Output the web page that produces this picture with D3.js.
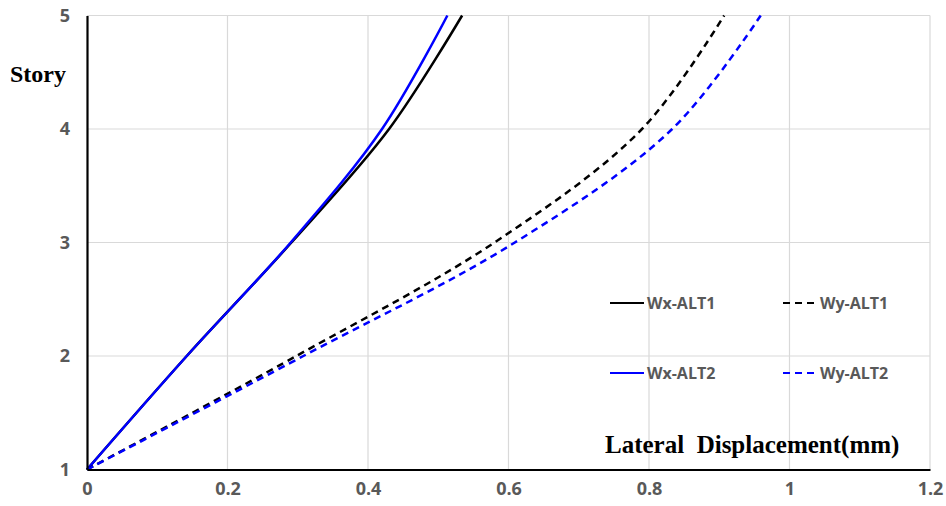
<!DOCTYPE html>
<html>
<head>
<meta charset="utf-8">
<script src="https://cdn.jsdelivr.net/npm/d3@7"></script>
<style>
  body { margin: 0; background: #fff; }
  svg { display: block; }
</style>
</head>
<body>
<div id="chart"></div>
<script>
// displacement (mm) vs story
var wxAlt1 = [[0, 1], [0.142, 2], [0.291, 3], [0.430, 4], [0.534, 5]]
var wxAlt2 = [[0, 1], [0.142, 2], [0.290, 3], [0.420, 4], [0.513, 5]]
var wyAlt1 = [[0, 1], [0.298, 2], [0.58, 3], [0.79, 4], [0.907, 5]]
var wyAlt2 = [[0, 1], [0.308, 2], [0.609, 3], [0.833, 4], [0.959, 5]]

var xTicks = [0, 0.2, 0.4, 0.6, 0.8, 1, 1.2]
var xTickLabels = ["0", "0.2", "0.4", "0.6", "0.8", "1", "1.2"]
var yTicks = [1, 2, 3, 4, 5]

var series = [
  {name: "Wx-ALT1", data: wxAlt1, color: "#000000", dash: null},
  {name: "Wx-ALT2", data: wxAlt2, color: "#0000ff", dash: null},
  {name: "Wy-ALT1", data: wyAlt1, color: "#000000", dash: "7,5"},
  {name: "Wy-ALT2", data: wyAlt2, color: "#0000ff", dash: "7,5"}
]

var width = 946,
    height = 506,
    margin = {top: 15.5, right: 16, bottom: 36.5, left: 87}

var svg = d3.select("#chart")
  .append("svg")
    .attr("width", width)
    .attr("height", height)

var x = d3.scaleLinear()
  .domain([0, 1.2])
  .range([margin.left, width - margin.right])

var y = d3.scaleLinear()
  .domain([1, 5])
  .range([height - margin.bottom, margin.top])

// grid
svg.append("g")
  .selectAll("line.vg")
  .data(xTicks.slice(1))
  .enter().append("line")
    .attr("x1", function(d) { return x(d) })
    .attr("x2", function(d) { return x(d) })
    .attr("y1", y(1))
    .attr("y2", y(5))
    .attr("stroke", "#d9d9d9")
    .attr("stroke-width", 1.2)

svg.append("g")
  .selectAll("line.hg")
  .data(yTicks.slice(1))
  .enter().append("line")
    .attr("x1", x(0))
    .attr("x2", x(1.2))
    .attr("y1", function(d) { return y(d) })
    .attr("y2", function(d) { return y(d) })
    .attr("stroke", "#d9d9d9")
    .attr("stroke-width", 1.2)

// series
var line = d3.line()
  .x(function(d) { return x(d[0]) })
  .y(function(d) { return y(d[1]) })
  .curve(d3.curveCatmullRom.alpha(0.5))

svg.append("g")
  .selectAll("path")
  .data(series)
  .enter().append("path")
    .attr("d", function(d) { return line(d.data) })
    .attr("fill", "none")
    .attr("stroke", function(d) { return d.color })
    .attr("stroke-width", 2.5)
    .attr("stroke-dasharray", function(d) { return d.dash })

// axes
var xAxis = svg.append("g")
  .attr("transform", "translate(0," + y(1) + ")")
  .call(d3.axisBottom(x)
    .tickValues(xTicks)
    .tickSize(0)
    .tickPadding(13)
    .tickFormat(function(d, i) { return xTickLabels[i] }))

var yAxis = svg.append("g")
  .attr("transform", "translate(" + x(0) + ",0)")
  .call(d3.axisLeft(y)
    .tickValues(yTicks)
    .tickSize(0)
    .tickPadding(17)
    .tickFormat(d3.format("d")))

xAxis.select(".domain").attr("stroke", "#000").attr("stroke-width", 2.2)
yAxis.select(".domain").attr("stroke", "#000").attr("stroke-width", 2.2)

svg.selectAll(".tick text")
  .attr("fill", "#595959")
  .style("font-family", "'Open Sans', sans-serif")
  .style("font-size", "18px")
  .style("font-weight", "700")

// axis titles
svg.append("text")
  .attr("x", 10)
  .attr("y", 82)
  .style("font-family", "'Liberation Serif', 'Times New Roman', serif")
  .style("font-weight", "bold")
  .style("font-size", "24px")
  .text("Story")

svg.append("text")
  .attr("x", 605)
  .attr("y", 453)
  .attr("xml:space", "preserve")
  .style("font-family", "'Liberation Serif', 'Times New Roman', serif")
  .style("font-weight", "bold")
  .style("font-size", "25px")
  .style("white-space", "pre")
  .text("Lateral  Displacement(mm)")

// legend
var legendPos = [
  {lx: 610, ly: 303},
  {lx: 610, ly: 373},
  {lx: 783, ly: 303},
  {lx: 783, ly: 373}
]

var legend = svg.append("g")
  .selectAll("g")
  .data(series)
  .enter().append("g")
    .attr("transform", function(d, i) { return "translate(" + legendPos[i].lx + "," + legendPos[i].ly + ")" })

legend.append("line")
  .attr("x1", 0)
  .attr("x2", 34)
  .attr("stroke", function(d) { return d.color })
  .attr("stroke-width", 2.2)
  .attr("stroke-dasharray", function(d) { return d.dash })

legend.append("text")
  .attr("x", 37)
  .attr("dy", "0.35em")
  .attr("fill", "#595959")
  .style("font-family", "'Open Sans', sans-serif")
  .style("font-size", "16px")
  .style("font-weight", "700")
  .text(function(d) { return d.name })
</script>
</body>
</html>
